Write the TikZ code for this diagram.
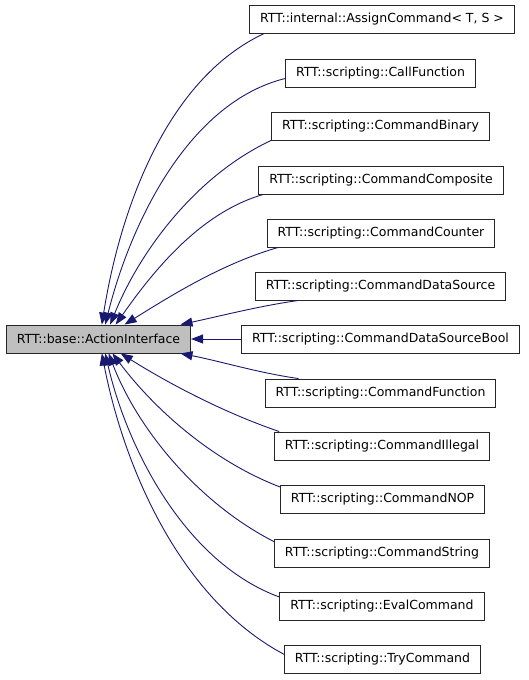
\documentclass[tikz,border=0pt]{standalone}
\usepackage{fontspec}
\setmainfont{DejaVu Sans}
\usetikzlibrary{arrows.meta}
\definecolor{edge}{HTML}{191970}
\definecolor{hilite}{HTML}{BFBFBF}
\tikzset{
  cls/.style={draw=black!85,fill=white,line width=0.9pt,minimum height=28pt,inner xsep=10.5pt,inner ysep=0pt,font=\fontsize{12.5}{15}\selectfont},
  cur/.style={cls,fill=hilite},
  inh/.style={{Triangle[length=12pt,width=9pt]}-,edge,line width=0.9pt,looseness=0.85},
}
\begin{document}
\begin{tikzpicture}[x=1pt,y=1pt]
\useasboundingbox (0,0) rectangle (528,-680);
\node[cur] (base) at (98.5,-339) {RTT::base::ActionInterface};
\node[cls] (assign) at (382,-19) {RTT::internal::AssignCommand< T, S >};
\node[cls] (callfn) at (380.5,-73.5) {RTT::scripting::CallFunction};
\node[cls] (binary) at (380.5,-126) {RTT::scripting::CommandBinary};
\node[cls] (compos) at (381,-180) {RTT::scripting::CommandComposite};
\node[cls] (counter) at (381,-233) {RTT::scripting::CommandCounter};
\node[cls] (dsrc) at (380.5,-286) {RTT::scripting::CommandDataSource};
\node[cls] (dsbool) at (380.5,-339) {RTT::scripting::CommandDataSourceBool};
\node[cls] (cmdfn) at (380.5,-393) {RTT::scripting::CommandFunction};
\node[cls] (illegal) at (382,-446) {RTT::scripting::CommandIllegal};
\node[cls] (nop) at (382.5,-499.5) {RTT::scripting::CommandNOP};
\node[cls] (string) at (382,-553) {RTT::scripting::CommandString};
\node[cls] (eval) at (382,-606) {RTT::scripting::EvalCommand};
\node[cls] (try) at (382.5,-659.5) {RTT::scripting::TryCommand};
% subclasses above
\draw[inh] (base.77) to[out=81,in=205] (assign.187);
\draw[inh] (base.65) to[out=76,in=194] (callfn.183);
\draw[inh] (base.51) to[out=68,in=205] (binary.south west);
\draw[inh] (base.40) to[out=55,in=196] (compos.187);
\draw[inh] (base.29) to[out=32,in=196] (counter.188);
\draw[inh] (base.10) to[out=12,in=188] (dsrc.190);
\draw[inh] (base.east) -- (dsbool.west);
% subclasses below
\draw[inh] (base.-10) to[out=-11,in=172] (cmdfn.170);
\draw[inh] (base.-33) to[out=-32,in=161] (illegal.172);
\draw[inh] (base.-46) to[out=-53,in=159] (nop.173);
\draw[inh] (base.-55) to[out=-69,in=153] (string.174);
\draw[inh] (base.-65) to[out=-77,in=160] (eval.175);
\draw[inh] (base.-77) to[out=-79,in=152] (try.177);
\end{tikzpicture}
\end{document}
